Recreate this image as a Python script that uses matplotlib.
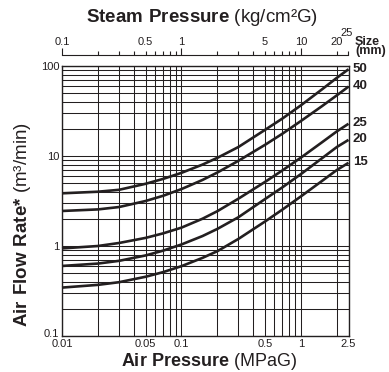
import matplotlib
matplotlib.use("Agg")
import matplotlib.pyplot as plt
from matplotlib.ticker import NullFormatter
from matplotlib.transforms import ScaledTranslation

plt.rcParams['font.family'] = ['Liberation Sans', 'DejaVu Sans']
plt.rcParams['mathtext.fontset'] = 'custom'
plt.rcParams['mathtext.rm'] = 'Liberation Sans'
plt.rcParams['mathtext.bf'] = 'Liberation Sans:bold'

INK = '#231f20'

# air pressure (MPaG) where the curves were read
air_p = [0.01, 0.02, 0.03, 0.05, 0.07, 0.1, 0.15, 0.2, 0.3, 0.5, 0.7, 1.0, 1.5, 2.0, 2.5]
# air flow rate (m3/min) per size (mm)
flow_50 = [3.85, 4.01, 4.21, 4.91, 5.56, 6.5, 8.03, 9.55, 12.6, 19.5, 26.1, 36.6, 55.0, 74.0, 92.0]
flow_40 = [2.45, 2.55, 2.71, 3.16, 3.61, 4.29, 5.42, 6.56, 8.85, 13.3, 17.7, 24.5, 35.8, 47.3, 59.0]
flow_25 = [0.94, 1.0, 1.08, 1.23, 1.38, 1.6, 2.01, 2.44, 3.36, 5.15, 6.92, 9.6, 14.2, 18.8, 22.8]
flow_20 = [0.6, 0.638, 0.684, 0.785, 0.887, 1.04, 1.29, 1.55, 2.09, 3.32, 4.49, 6.3, 9.44, 12.6, 15.1]
flow_15 = [0.345, 0.37, 0.396, 0.455, 0.512, 0.597, 0.738, 0.877, 1.2, 1.87, 2.54, 3.56, 5.28, 7.0, 8.4]
sizes = ['50', '40', '25', '20', '15']
flows = [flow_50, flow_40, flow_25, flow_20, flow_15]

x_ticks = [0.01, 0.05, 0.1, 0.5, 1, 2.5]
x_labels = ['0.01', '0.05', '0.1', '0.5', '1', '2.5']
y_ticks = [0.1, 1, 10, 100]
y_labels = ['0.1', '1', '10', '100']
steam_major = [0.1, 1, 10]
steam_minor = [0.2, 0.3, 0.4, 0.5, 0.6, 0.7, 0.8, 0.9, 2, 3, 4, 5, 6, 7, 8, 9, 20, 25]
steam_minor_labels = ['', '', '', '0.5', '', '', '', '', '', '', '', '5', '', '', '', '', '20', '']

W, H = 389, 372
fig = plt.figure(figsize=(W / 100, H / 100), dpi=100)
ax = fig.add_axes([62 / W, 36 / H, 286.5 / W, 270 / H])
ax.set_xscale('log')
ax.set_yscale('log')
ax.set_xlim(0.01, 2.5)
ax.set_ylim(0.1, 100)

ax.grid(which='both', color=INK, lw=0.75)
ax.set_axisbelow(True)
for s in ax.spines.values():
    s.set_color(INK)
    s.set_linewidth(1.0)

ax.set_xticks(x_ticks, labels=x_labels)
ax.set_yticks(y_ticks, labels=y_labels)
ax.xaxis.set_minor_formatter(NullFormatter())
ax.yaxis.set_minor_formatter(NullFormatter())
ax.tick_params(which='both', length=0, labelsize=8, colors=INK, pad=2)
# lift the bottom "0.1" label a little, as in the original
lbl = ax.get_yticklabels()[0]
lbl.set_transform(lbl.get_transform() + ScaledTranslation(0, 3 / 100, fig.dpi_scale_trans))

for size, fl in zip(sizes, flows):
    ax.plot(air_p, fl, color=INK, lw=1.9, solid_capstyle='butt', clip_on=False)
    ax.annotate(size, xy=(air_p[-1], fl[-1]), xytext=(3, 0.5), textcoords='offset points',
                ha='left', va='center', fontsize=9.5, fontweight='bold', color=INK,
                annotation_clip=False)

# steam pressure scale on top
sec = ax.secondary_xaxis(1 + 11 / 270, functions=(lambda v: v * 10, lambda v: v / 10))
sec.set_xticks(steam_major, labels=['0.1', '1', '10'])
sec.set_xticks(steam_minor, labels=steam_minor_labels, minor=True)
sec.tick_params(which='major', direction='out', length=5, width=0.8, colors=INK, labelsize=8, pad=0.5)
sec.tick_params(which='minor', direction='out', length=3.2, width=0.8, colors=INK, labelsize=8, pad=2.3)
sec.spines['top'].set_linewidth(0.8)
sec.spines['top'].set_color(INK)
ax.annotate('25', xy=(2.5, 1), xycoords=('data', 'axes fraction'), xytext=(-1.5, 24),
            textcoords='offset points', ha='center', va='center', fontsize=8, color=INK,
            annotation_clip=False)

fig.text(355 / W, 1 - 46.5 / H, 'Size\n(mm)', fontsize=9, fontweight='bold', color=INK,
         va='center', ha='left', linespacing=0.72)

fig.text(202 / W, 1 - 18 / H, r'$\mathbf{Steam\ Pressure}$ (kg/cm²G)', fontsize=13.5,
         color=INK, ha='center', va='center')
fig.text(209 / W, 1 - 361 / H, r'$\mathbf{Air\ Pressure}$ (MPaG)', fontsize=13,
         color=INK, ha='center', va='center')
fig.text(23 / W, 1 - 225 / H, r'$\mathbf{Air\ Flow\ Rate{*}}$ (m³/min)', fontsize=13.5,
         color=INK, ha='center', va='center', rotation=90)

fig.savefig('out.png', dpi=100)
